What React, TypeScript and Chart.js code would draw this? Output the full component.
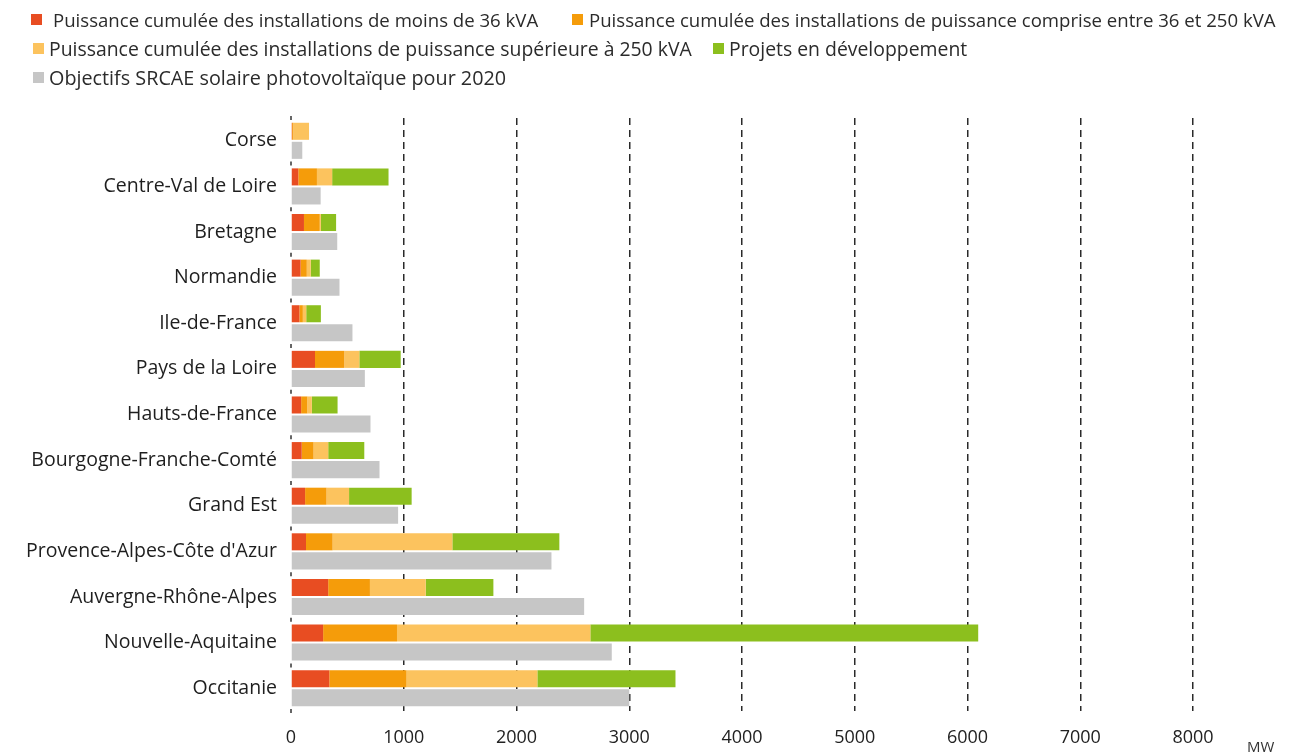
import React, { useEffect, useRef } from "react";
import { Chart, registerables } from "chart.js";

Chart.register(...registerables);

// ---- Data (MW) ----
const regions = [
  "Corse",
  "Centre-Val de Loire",
  "Bretagne",
  "Normandie",
  "Ile-de-France",
  "Pays de la Loire",
  "Hauts-de-France",
  "Bourgogne-Franche-Comté",
  "Grand Est",
  "Provence-Alpes-Côte d'Azur",
  "Auvergne-Rhône-Alpes",
  "Nouvelle-Aquitaine",
  "Occitanie",
];
const moins36kVA = [10, 65, 115, 85, 75, 213, 90, 95, 125, 133, 330, 285, 340];
const entre36et250kVA = [10, 165, 140, 55, 30, 260, 55, 105, 190, 236, 370, 655, 685];
const plus250kVA = [140, 135, 10, 35, 30, 133, 40, 130, 200, 1062, 495, 1715, 1160];
const projets = [0, 500, 135, 80, 130, 367, 228, 320, 555, 949, 600, 3440, 1225];
const objectifs2020 = [100, 263, 410, 430, 545, 655, 705, 785, 950, 2310, 2600, 2845, 3000];
const xTickValues = [0, 1000, 2000, 3000, 4000, 5000, 6000, 7000, 8000];

const seriesLabels = [
  "Puissance cumulée des installations de moins de 36 kVA",
  "Puissance cumulée des installations de puissance comprise entre 36 et 250 kVA",
  "Puissance cumulée des installations de puissance supérieure à 250 kVA",
  "Projets en développement",
  "Objectifs SRCAE solaire photovoltaïque pour 2020",
];
const seriesColors = ["#e84d22", "#f59c0a", "#fcc35e", "#8cbf1e", "#c6c6c6"];

const FONT = "'Open Sans', 'DejaVu Sans', sans-serif";

const boundaryTicks = {
  id: "boundaryTicks",
  afterDatasetsDraw(chart: any) {
    const { ctx, chartArea } = chart;
    const y = chart.scales.y;
    const n = regions.length;
    const band = (chartArea.bottom - chartArea.top) / n;
    ctx.save();
    ctx.strokeStyle = "#333";
    ctx.lineWidth = 1.5;
    for (let i = 0; i <= n; i++) {
      const py = y.getPixelForValue(0) - band / 2 + i * band;
      ctx.beginPath();
      ctx.moveTo(chartArea.left, py - 2);
      ctx.lineTo(chartArea.left, py + 2);
      ctx.stroke();
    }
    ctx.restore();
  },
};

export default function App() {
  const canvasRef = useRef<HTMLCanvasElement | null>(null);

  useEffect(() => {
    if (!canvasRef.current) return;
    const values = [moins36kVA, entre36et250kVA, plus250kVA, projets, objectifs2020];
    const chart = new Chart(canvasRef.current, {
      type: "bar",
      data: {
        labels: regions,
        datasets: values.map((d, i) => ({
          label: seriesLabels[i],
          data: d,
          backgroundColor: seriesColors[i],
          borderWidth: 0,
          stack: i < 4 ? "installe" : "objectif",
          categoryPercentage: 0.835,
          barPercentage: 0.895,
        })),
      },
      plugins: [boundaryTicks],
      options: {
        indexAxis: "y",
        animation: false,
        responsive: false,
        devicePixelRatio: 1,
        layout: { padding: { top: 118, right: 114, bottom: 0, left: 0 } },
        plugins: {
          legend: { display: false },
          tooltip: { enabled: false },
          title: { display: false },
        },
        scales: {
          x: {
            type: "linear",
            stacked: true,
            min: 0,
            max: 8000,
            afterBuildTicks: (scale: any) => {
              scale.ticks = xTickValues.map((v) => ({ value: v }));
            },
            afterFit: (scale: any) => {
              scale.height = 42;
            },
            grid: {
              color: (ctx: any) => (ctx.tick && ctx.tick.value === 0 ? "rgba(0,0,0,0)" : "#2a2a2a"),
              lineWidth: 1.5,
              drawTicks: false,
            },
            border: { display: false, dash: [7, 5] },
            ticks: {
              padding: 16,
              color: "#222",
              font: { family: FONT, size: 18 },
              callback: (v: any) => String(v),
            },
          },
          y: {
            stacked: true,
            afterFit: (scale: any) => {
              scale.width = 291;
            },
            grid: { display: false, drawTicks: false },
            border: { display: false },
            ticks: {
              padding: 14,
              color: "#1e1e1e",
              font: { family: FONT, size: 19.5 },
            },
          },
        },
      },
    });
    return () => chart.destroy();
  }, []);

  const legendItem = (i: number, left: number, top: number, textGap: number, size: number) => (
    <div
      key={i}
      style={{
        position: "absolute",
        left,
        top,
        height: 24,
        display: "flex",
        alignItems: "center",
        whiteSpace: "nowrap",
        fontFamily: FONT,
        fontSize: size,
        color: "#2b2b2b",
      }}
    >
      <span
        style={{
          display: "inline-block",
          width: 11,
          height: 11,
          background: seriesColors[i],
          marginRight: textGap,
          flex: "0 0 auto",
        }}
      />
      <span>{seriesLabels[i]}</span>
    </div>
  );

  return (
    <div
      style={{
        position: "absolute",
        left: 0,
        top: 0,
        width: 1307,
        height: 753,
        background: "#fff",
        overflow: "hidden",
      }}
    >
      <canvas
        ref={canvasRef}
        width={1307}
        height={753}
        style={{ position: "absolute", left: 0, top: 0, width: 1307, height: 753 }}
      />
      {legendItem(0, 31, 7, 11, 18.6)}
      {legendItem(1, 572, 7, 6, 18.6)}
      {legendItem(2, 33, 36, 5, 19.4)}
      {legendItem(3, 713, 36, 5, 19.4)}
      {legendItem(4, 33, 65, 5, 19.8)}
      <div
        style={{
          position: "absolute",
          left: 1247,
          top: 737,
          fontFamily: FONT,
          fontSize: 15,
          lineHeight: "18px",
          color: "#333",
        }}
      >
        MW
      </div>
    </div>
  );
}
